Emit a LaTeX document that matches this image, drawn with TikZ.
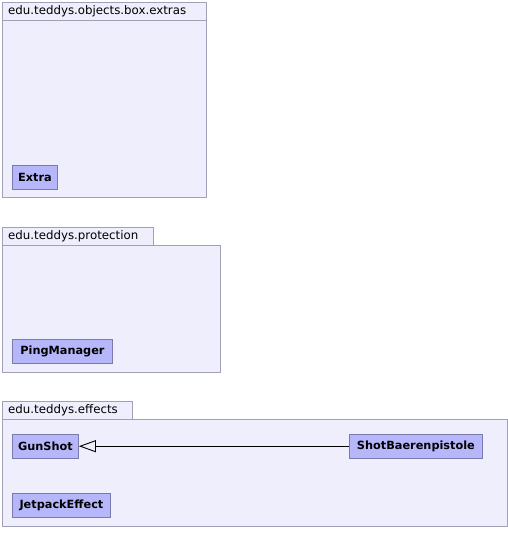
\documentclass[tikz,border=0pt]{standalone}
\usepackage{fontspec}
\setmainfont{DejaVu Sans}
\usetikzlibrary{arrows.meta}
\definecolor{pkgfill}{RGB}{238,238,252}
\definecolor{pkgline}{RGB}{160,160,182}
\definecolor{clsfill}{RGB}{182,182,250}
\definecolor{clsline}{RGB}{122,122,172}

\begin{document}
\begin{tikzpicture}[x=1pt,y=-1pt,>=Stealth,
  pkg/.style={fill=pkgfill,draw=pkgline,line width=0.9pt},
  pkgname/.style={anchor=west,inner sep=0pt,font=\fontsize{11.8}{13}\selectfont},
  cls/.style={fill=clsfill,draw=clsline,line width=0.9pt,anchor=north west,
    inner sep=0pt,minimum height=23.5pt,font=\bfseries\fontsize{11.3}{13}\selectfont}]
  \useasboundingbox (0,0) rectangle (508,536);
  % edu.teddys.objects.box.extras
  \draw[pkg] (2,2) rectangle (206,20);
  \draw[pkg] (2,20) rectangle (206,197);
  \node[pkgname] (extrasname) at (8,11.5) {edu.teddys.objects.box.extras};
  \node[cls,minimum width=45pt] (extra) at (12,165) {Extra};
  % edu.teddys.protection
  \draw[pkg] (2,227) rectangle (153,245);
  \draw[pkg] (2,245) rectangle (220,372);
  \node[pkgname] (protname) at (8,236.5) {edu.teddys.protection};
  \node[cls,minimum width=100pt] (ping) at (12,339) {PingManager};
  % edu.teddys.effects
  \draw[pkg] (2,401) rectangle (132,419);
  \draw[pkg] (2,419) rectangle (507.5,526);
  \node[pkgname] (effectsname) at (8,410.5) {edu.teddys.effects};
  \node[cls,minimum width=66pt] (gunshot) at (12,434) {GunShot};
  \node[cls,minimum width=133pt] (shot) at (349,434) {ShotBaerenpistole};
  \node[cls,minimum width=98pt] (jetpack) at (12,493) {JetpackEffect};
  \draw[line width=0.9pt,-{Triangle[open,width=12pt,length=17pt]}] (shot) -- (gunshot);
\end{tikzpicture}
\end{document}
